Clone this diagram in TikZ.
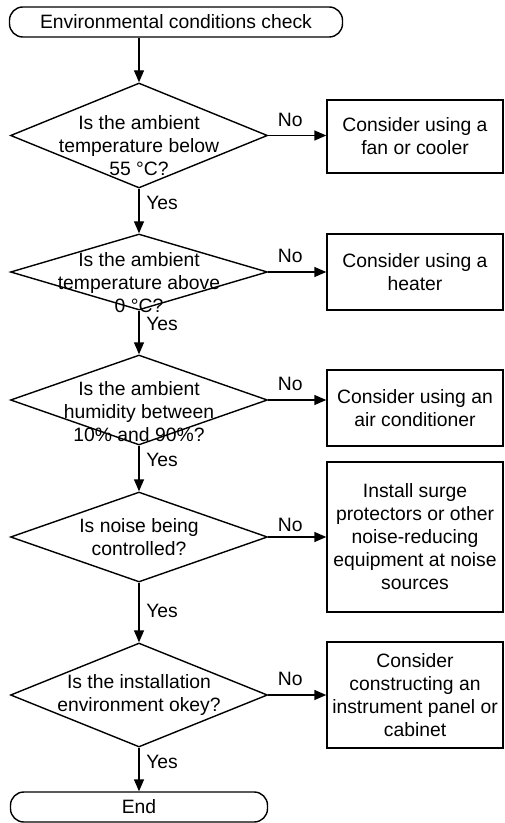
\documentclass[tikz,border=0pt]{standalone}
\usepackage{fontspec}
\setmainfont{Liberation Sans}
\usetikzlibrary{positioning,arrows.meta,shapes.geometric}

\begin{document}
\begin{tikzpicture}[>={Triangle[length=0.36cm,width=0.3cm]}, line width=1.2pt,
  every node/.style={font=\fontsize{16.5}{19.6}\selectfont},
  terminal/.style={draw, rounded corners=0.4cm, minimum height=0.9cm},
  decision/.style={draw, diamond, inner sep=0pt, minimum width=7.71cm},
  qtext/.style={align=center},
  action/.style={draw, align=center, minimum width=5.28cm}]
  \useasboundingbox (0,0) rectangle (15.12,-24.69);

  \node[terminal, minimum width=9.99cm] (start) at (5.28,-0.66) {Environmental conditions check};

  \node[decision, minimum height=3.15cm, label={[qtext, yshift=-0.3cm]center:Is the ambient\\temperature below\\55 °C?}] (temphigh) at (4.17,-4.065) {};
  \node[decision, minimum height=2.28cm, label={[qtext, yshift=-0.32cm]center:Is the ambient\\temperature above\\0 °C?}] (templow) at (4.17,-8.16) {};
  \node[decision, minimum height=2.7cm, label={[qtext, yshift=-0.36cm]center:Is the ambient\\humidity between\\10\% and 90\%?}] (humid) at (4.17,-12.0) {};
  \node[decision, minimum height=2.7cm, label={[qtext]center:Is noise being\\controlled?}] (noise) at (4.17,-16.11) {};
  \node[decision, minimum height=3.12cm, label={[qtext]center:Is the installation\\environment okey?}] (site) at (4.17,-20.85) {};

  \node[terminal, minimum width=7.71cm] (finish) at (4.17,-24.21) {End};

  \node[action, minimum height=2.19cm] (cooler) at (12.45,-4.095) {Consider using a\\fan or cooler};
  \node[action, minimum height=2.28cm] (heater) at (12.45,-8.16) {Consider using a\\heater};
  \node[action, minimum height=2.28cm] (aircon) at (12.45,-12.24) {Consider using an\\air conditioner};
  \node[action, minimum height=4.5cm] (surge) at (12.45,-16.11) {Install surge\\protectors or other\\noise-reducing\\equipment at noise\\sources};
  \node[action, minimum height=3.18cm] (panel) at (12.45,-20.85) {Consider\\constructing an\\instrument panel or\\cabinet};

  % main line
  \draw[->] (start.south -| temphigh.north) -- (temphigh.north);
  \draw[->] (temphigh.south) -- node[right=0.08cm, pos=0.32] {Yes} (templow.north);
  \draw[->] (templow.south) -- node[right=0.08cm, pos=0.3] {Yes} (humid.north);
  \draw[->] (humid.south) -- node[right=0.08cm, pos=0.32] {Yes} (noise.north);
  \draw[->] (noise.south) -- node[right=0.08cm, pos=0.48] {Yes} (site.north);
  \draw[->] (site.south) -- node[right=0.08cm, pos=0.33] {Yes} (finish.north);

  % side branches
  \draw[->] (temphigh.east) -- node[above=0.13cm, pos=0.38] {No} (temphigh.east -| cooler.west);
  \draw[->] (templow.east) -- node[above=0.13cm, pos=0.38] {No} (templow.east -| heater.west);
  \draw[->] (humid.east) -- node[above=0.13cm, pos=0.38] {No} (humid.east -| aircon.west);
  \draw[->] (noise.east) -- node[above=0.02cm, pos=0.38] {No} (noise.east -| surge.west);
  \draw[->] (site.east) -- node[above=0.13cm, pos=0.38] {No} (site.east -| panel.west);
\end{tikzpicture}
\end{document}
